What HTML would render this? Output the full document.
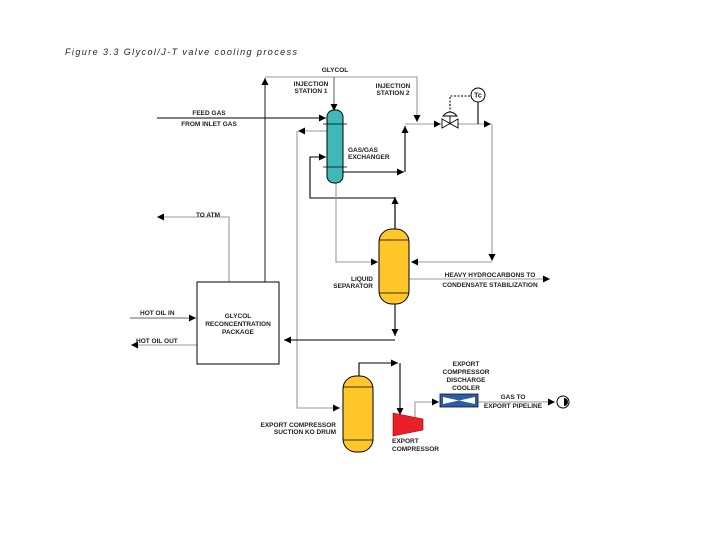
<!DOCTYPE html><html><head><style>body{margin:0;background:#fff}svg text{font-family:"Liberation Sans",sans-serif;font-weight:bold;font-size:6.5px;fill:#222}</style></head><body>
<svg width="720" height="540" viewBox="0 0 720 540" xmlns="http://www.w3.org/2000/svg">
<defs>
<marker id="a" markerWidth="8" markerHeight="8" refX="7" refY="4" orient="auto" markerUnits="userSpaceOnUse"><path d="M0,0.5 L7,4 L0,7.5z" fill="#000"/></marker>
</defs>
<text x="65" y="55" textLength="232" lengthAdjust="spacing" style="font-weight:normal;font-style:italic;font-size:9px">Figure 3.3   Glycol/J-T valve cooling process</text>
<g fill="none" stroke-width="1.1">
<path d="M265,283 V78" stroke="#333" marker-end="url(#a)"/>
<path d="M265,77 H417 V122" stroke="#999" marker-end="url(#a)"/>
<path d="M334,77 V111" stroke="#666" marker-end="url(#a)"/>
<path d="M157,118 H326" stroke="#000" marker-end="url(#a)"/>
<path d="M327,131 H298" stroke="#999" marker-end="url(#a)"/>
<path d="M297,131 V408 H340" stroke="#999" marker-end="url(#a)"/>
<path d="M395,229 V198 H310 V157 H326" stroke="#000" marker-end="url(#a)"/>
<path d="M395,229 V197" stroke="#000" marker-end="url(#a)"/>
<path d="M343,172 H404" stroke="#000" marker-end="url(#a)"/>
<path d="M405,172 V126" stroke="#000" marker-end="url(#a)"/>
<path d="M405,124 H441" stroke="#999" marker-end="url(#a)"/>
<path d="M458,124 H491" stroke="#999" marker-end="url(#a)"/>
<path d="M492,124 V261" stroke="#999" marker-end="url(#a)"/>
<path d="M492,262 H411" stroke="#999" marker-end="url(#a)"/>
<path d="M336,183 V262 H378" stroke="#999" marker-end="url(#a)"/>
<path d="M409,279 H550" stroke="#999" marker-end="url(#a)"/>
<path d="M395,304 V336" stroke="#000" marker-end="url(#a)"/>
<path d="M395,340 H284" stroke="#000" marker-end="url(#a)"/>
<path d="M229,282 V217 H157" stroke="#999" marker-end="url(#a)"/>
<path d="M130,318 H196" stroke="#666" marker-end="url(#a)"/>
<path d="M197,345 H131" stroke="#999" marker-end="url(#a)"/>
<path d="M359,376 V363 H398" stroke="#000" marker-end="url(#a)"/>
<path d="M400,363 V415" stroke="#000" marker-end="url(#a)"/>
<path d="M415,417 V402 H439" stroke="#999" marker-end="url(#a)"/>
<path d="M478,402 H555" stroke="#999" marker-end="url(#a)"/>
<path d="M478,102 V124" stroke="#000"/>
<path d="M450,113 V96 H471" stroke="#000" stroke-dasharray="2,1.5"/>
</g>
<rect x="327" y="110" width="16" height="73" rx="7" fill="#3fb8b8" stroke="#000" stroke-width="1"/>
<path d="M323,124 H347 M323,167 H347" stroke="#000" stroke-width="0.8"/>
<rect x="379" y="229" width="30" height="75" rx="13" fill="#ffc72a" stroke="#000"/>
<path d="M379,240 H409 M379,293 H409" stroke="#000" stroke-width="0.8"/>
<rect x="343" y="376" width="30" height="76" rx="13" fill="#ffc72a" stroke="#000"/>
<path d="M343,387 H373 M343,440 H373" stroke="#000" stroke-width="0.8"/>
<path d="M393,413 L423,419 V430 L393,436z" fill="#e8202a" stroke="#900" stroke-width="0.6"/>
<rect x="440" y="394" width="38" height="13" fill="#2a5ea8" stroke="#113" stroke-width="0.8"/>
<path d="M443,397 L459,400.5 L475,397 V404 L459,400.5 L443,404z" fill="#fff"/>
<path d="M442,119 L458,128 V119 L442,128z" fill="#fff" stroke="#000" stroke-width="0.9"/>
<path d="M443,116 Q450,108 457,116z" fill="#fff" stroke="#000" stroke-width="0.9"/>
<line x1="450" y1="116" x2="450" y2="123.5" stroke="#000" stroke-width="0.9"/>
<circle cx="478" cy="95" r="7" fill="#fff" stroke="#000"/>
<text x="478" y="97.5" text-anchor="middle" style="font-size:7px">Tc</text>
<circle cx="563" cy="402" r="6" fill="#fff" stroke="#000"/>
<path d="M564,398 A4,4 0 0 1 564,406z" fill="#000"/>
<rect x="197" y="282" width="82" height="82" fill="#fff" stroke="#000"/>
<g text-anchor="middle">
<text x="335" y="72">GLYCOL</text>
<text x="311" y="86">INJECTION</text><text x="311" y="93">STATION 1</text>
<text x="393" y="88">INJECTION</text><text x="393" y="95">STATION 2</text>
<text x="209" y="115">FEED GAS</text><text x="209" y="126">FROM INLET GAS</text>
<text x="208" y="217">TO ATM</text>
<text x="238" y="318">GLYCOL</text><text x="238" y="326">RECONCENTRATION</text><text x="238" y="334">PACKAGE</text>
<text x="490" y="277">HEAVY HYDROCARBONS TO</text><text x="490" y="287">CONDENSATE STABILIZATION</text>
<text x="466" y="366">EXPORT</text><text x="466" y="374">COMPRESSOR</text><text x="466" y="382">DISCHARGE</text><text x="466" y="390">COOLER</text>
<text x="513" y="399">GAS TO</text><text x="513" y="408">EXPORT PIPELINE</text>
</g>
<g text-anchor="end">
<text x="373" y="281">LIQUID</text><text x="373" y="288">SEPARATOR</text>
<text x="336" y="427">EXPORT COMPRESSOR</text><text x="336" y="434">SUCTION KO DRUM</text>
</g>
<text x="348" y="152">GAS/GAS</text><text x="348" y="159">EXCHANGER</text>
<text x="140" y="315">HOT OIL IN</text><text x="136" y="343">HOT OIL OUT</text>
<text x="392" y="443">EXPORT</text><text x="392" y="451">COMPRESSOR</text>
</svg></body></html>
